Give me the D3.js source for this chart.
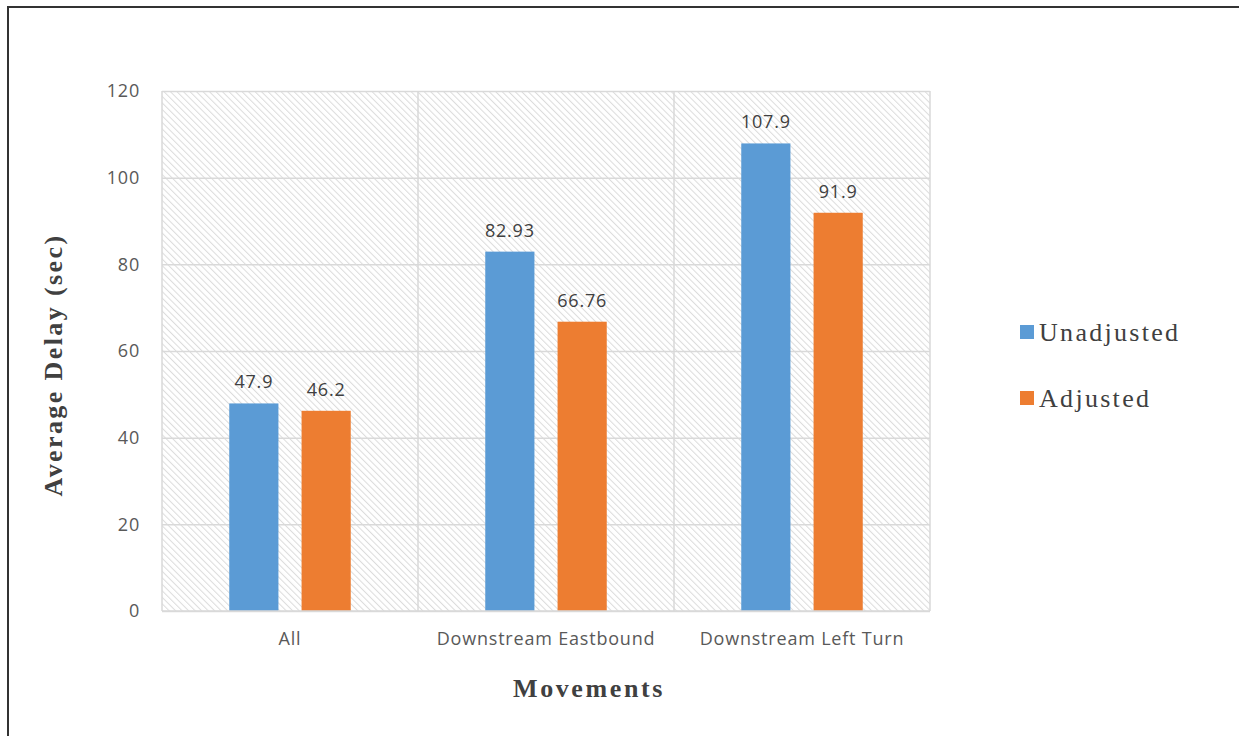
<!DOCTYPE html>
<html>
<head>
<meta charset="utf-8">
<script src="https://cdn.jsdelivr.net/npm/d3@7"></script>
<style>
  html, body { margin: 0; padding: 0; background: #fff; }
  svg { display: block; }
</style>
</head>
<body>
<svg id="chart" width="1239" height="736"></svg>
<script>
// Average delay per movement, before and after adjustment
const categories = ["All", "Downstream Eastbound", "Downstream Left Turn"];
const seriesNames = ["Unadjusted", "Adjusted"];
const unadjusted = [47.9, 82.93, 107.9];
const adjusted = [46.2, 66.76, 91.9];
const valueLabels = [["47.9", "82.93", "107.9"], ["46.2", "66.76", "91.9"]];
const yTicks = [0, 20, 40, 60, 80, 100, 120];

const colors = ["#5B9BD5", "#ED7D31"];
const seriesValues = [unadjusted, adjusted];

const svg = d3.select("#chart");
const W = 1239, H = 736;
const sansFont = "'Open Sans', Lato, sans-serif";
const serifFont = "'Liberation Serif', 'Times New Roman', serif";

// frame around the whole figure
svg.append("rect")
  .attr("x", 8).attr("y", 7)
  .attr("width", W).attr("height", H)
  .attr("fill", "#fff")
  .attr("stroke", "#333").attr("stroke-width", 2);

const plot = { left: 162, right: 930, top: 91, bottom: 611 };

const x = d3.scaleBand()
  .domain(categories)
  .range([plot.left, plot.right])
  .paddingInner(0).paddingOuter(0);

const xs = d3.scaleBand()
  .domain(seriesNames)
  .range([0, x.bandwidth()])
  .paddingInner(0.32)
  .paddingOuter(0.93);

const y = d3.scaleLinear()
  .domain([0, 120])
  .range([plot.bottom, plot.top]);

// diagonal hatch fill for the plot area
const defs = svg.append("defs");
const pat = defs.append("pattern")
  .attr("id", "hatch")
  .attr("patternUnits", "userSpaceOnUse")
  .attr("width", 4.6).attr("height", 4.6)
  .attr("patternTransform", "rotate(-45)");
pat.append("rect").attr("width", 4.6).attr("height", 4.6).attr("fill", "#fff");
pat.append("line")
  .attr("x1", 0).attr("y1", 0).attr("x2", 0).attr("y2", 4.6)
  .attr("stroke", "#dcdcdc").attr("stroke-width", 2);

svg.append("rect")
  .attr("x", plot.left).attr("y", plot.top)
  .attr("width", plot.right - plot.left)
  .attr("height", plot.bottom - plot.top)
  .attr("fill", "url(#hatch)");

// horizontal gridlines and value ticks
const yAxis = d3.axisLeft(y).tickValues(yTicks).tickSize(-(plot.right - plot.left)).tickPadding(22);
const gy = svg.append("g")
  .attr("transform", `translate(${plot.left},0)`)
  .call(yAxis);
gy.select(".domain").remove();
gy.selectAll(".tick line").attr("stroke", "#d9d9d9").attr("stroke-width", 1.5);
gy.selectAll(".tick text")
  .attr("fill", "#595959")
  .style("font-family", sansFont)
  .style("font-size", "18px")
  .style("letter-spacing", "0.8px");

// vertical separators between categories and plot border
const bounds = [plot.left, ...categories.map(c => x(c) + x.bandwidth())];
svg.selectAll(".vsep")
  .data(bounds)
  .join("line")
  .attr("class", "vsep")
  .attr("x1", d => d).attr("x2", d => d)
  .attr("y1", plot.top).attr("y2", plot.bottom)
  .attr("stroke", "#d9d9d9").attr("stroke-width", 1.5);

// bars with value labels
const groups = svg.selectAll(".cat")
  .data(categories)
  .join("g")
  .attr("class", "cat")
  .attr("transform", d => `translate(${x(d)},0)`);

seriesNames.forEach((s, si) => {
  groups.append("rect")
    .attr("x", xs(s))
    .attr("width", xs.bandwidth())
    .attr("y", (d, i) => y(seriesValues[si][i]))
    .attr("height", (d, i) => y(0) - y(seriesValues[si][i]))
    .attr("fill", colors[si]);
  groups.append("text")
    .attr("x", xs(s) + xs.bandwidth() / 2)
    .attr("y", (d, i) => y(seriesValues[si][i]) - 15)
    .attr("text-anchor", "middle")
    .attr("fill", "#404040")
    .style("font-family", sansFont)
    .style("font-size", "18px")
    .style("letter-spacing", "0.8px")
    .text((d, i) => valueLabels[si][i]);
});

// baseline
svg.append("line")
  .attr("x1", plot.left).attr("x2", plot.right)
  .attr("y1", plot.bottom).attr("y2", plot.bottom)
  .attr("stroke", "#d9d9d9").attr("stroke-width", 1.5);

// category labels
const xAxis = d3.axisBottom(x).tickSize(0).tickPadding(21);
const gx = svg.append("g")
  .attr("transform", `translate(0,${plot.bottom})`)
  .call(xAxis);
gx.select(".domain").remove();
gx.selectAll(".tick text")
  .attr("fill", "#595959")
  .style("font-family", sansFont)
  .style("font-size", "18px")
  .style("letter-spacing", "0.8px");

// axis titles
svg.append("text")
  .attr("x", (plot.left + plot.right) / 2 + 43)
  .attr("y", 697)
  .attr("text-anchor", "middle")
  .attr("fill", "#404040")
  .style("font-family", serifFont)
  .style("font-weight", "bold")
  .style("font-size", "26px")
  .style("letter-spacing", "2.6px")
  .text("Movements");

svg.append("text")
  .attr("transform", `translate(62,${(plot.top + plot.bottom) / 2 + 14}) rotate(-90)`)
  .attr("text-anchor", "middle")
  .attr("fill", "#404040")
  .style("font-family", serifFont)
  .style("font-weight", "bold")
  .style("font-size", "26px")
  .style("letter-spacing", "2.4px")
  .text("Average Delay (sec)");

// legend
const legend = svg.append("g").attr("transform", "translate(1020,0)");
const legendY = [332, 398];
seriesNames.forEach((s, i) => {
  legend.append("rect")
    .attr("x", 0).attr("y", legendY[i] - 7)
    .attr("width", 14).attr("height", 14)
    .attr("fill", colors[i]);
  legend.append("text")
    .attr("x", 19).attr("y", legendY[i] + 9)
    .attr("fill", "#404040")
    .style("font-family", serifFont)
    .style("font-size", "26px")
    .style("letter-spacing", "2.3px")
    .text(s);
});
</script>
</body>
</html>
